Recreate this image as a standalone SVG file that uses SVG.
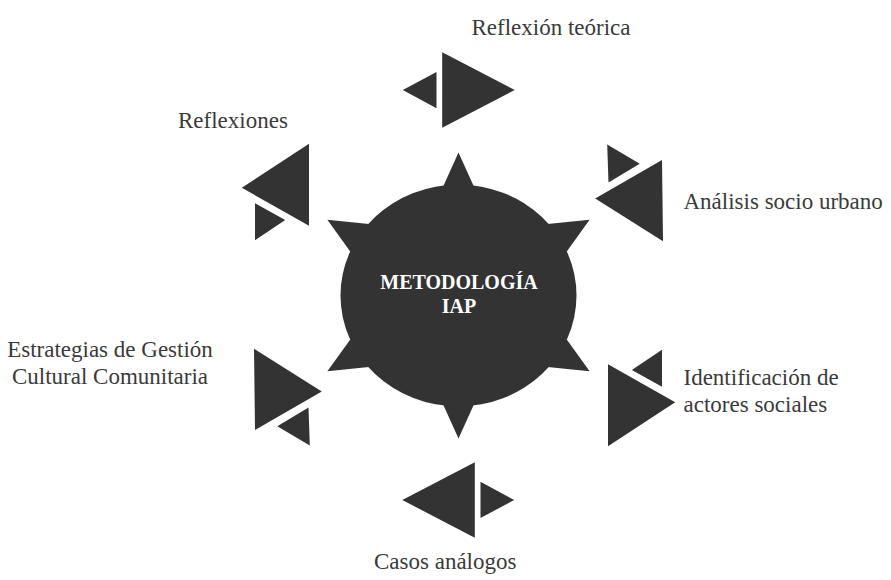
<svg xmlns="http://www.w3.org/2000/svg" width="891" height="580" viewBox="0 0 891 580">
  <style>
    .shape { fill: #333333; }
    .label { font-family: "Liberation Serif", "Times New Roman", serif; font-size: 23px; fill: #3a3a3a; }
    .center-label { font-family: "Liberation Serif", "Times New Roman", serif; font-size: 20px; font-weight: bold; fill: #ffffff; text-anchor: middle; }
  </style>
  <defs>
    <path id="spikeV" d="M458.5,152.5 L489,220 L428,220 Z"/>
    <path id="spikeS" d="M458.5,144.1 L492.7,220 L424.3,220 Z"/>
  </defs>
  <rect width="891" height="580" fill="#ffffff"/>

  <g id="center">
    <g class="shape">
      <ellipse cx="458.5" cy="295.5" rx="118" ry="111"/>
      <use href="#spikeV"/>
      <use href="#spikeV" transform="rotate(180 458.5 295.5)"/>
      <use href="#spikeS" transform="rotate(60 458.5 295.5)"/>
      <use href="#spikeS" transform="rotate(120 458.5 295.5)"/>
      <use href="#spikeS" transform="rotate(240 458.5 295.5)"/>
      <use href="#spikeS" transform="rotate(300 458.5 295.5)"/>
    </g>
    <text class="center-label" x="459" y="289">METODOLOGÍA</text>
    <text class="center-label" x="459" y="313">IAP</text>
  </g>

  <g id="connectors" class="shape">
    <!-- top -->
    <polygon points="442.2,52.2 514.7,90 442.2,127.8"/>
    <polygon points="436.5,72 436.5,108.3 402.8,90"/>
    <!-- upper left -->
    <polygon points="309,143.7 241.8,187.8 309,225.8"/>
    <polygon points="255,203.3 285.2,220 255,240.3"/>
    <!-- upper right -->
    <polygon points="662,160 595.2,198.4 663,241.3"/>
    <polygon points="607.2,144.5 639.7,163.8 608.5,182.5"/>
    <!-- lower right -->
    <polygon points="608,446.3 675.2,402.2 608,364.2"/>
    <polygon points="662,386.7 631.8,370 662,349.7"/>
    <!-- lower left -->
    <polygon points="255,430 321.8,391.6 254,348.7"/>
    <polygon points="309.8,445.5 277.3,426.2 308.5,407.5"/>
    <!-- bottom -->
    <polygon points="474.8,537.8 402.3,500 474.8,462.2"/>
    <polygon points="480.5,518 480.5,481.7 514.2,500"/>
  </g>

  <g id="reflexion-teorica">
    <text class="label" x="471.5" y="35">Reflexión teórica</text>
  </g>
  <g id="reflexiones">
    <text class="label" x="178" y="128">Reflexiones</text>
  </g>
  <g id="analisis-socio-urbano">
    <text class="label" x="683.5" y="209">Análisis socio urbano</text>
  </g>
  <g id="identificacion-actores">
    <text class="label" x="683.5" y="385">Identificación de</text>
    <text class="label" x="683.5" y="412">actores sociales</text>
  </g>
  <g id="estrategias-gestion">
    <text class="label" x="110" y="357" text-anchor="middle">Estrategias de Gestión</text>
    <text class="label" x="110" y="383.5" text-anchor="middle">Cultural Comunitaria</text>
  </g>
  <g id="casos-analogos">
    <text class="label" x="374" y="569">Casos análogos</text>
  </g>
</svg>
